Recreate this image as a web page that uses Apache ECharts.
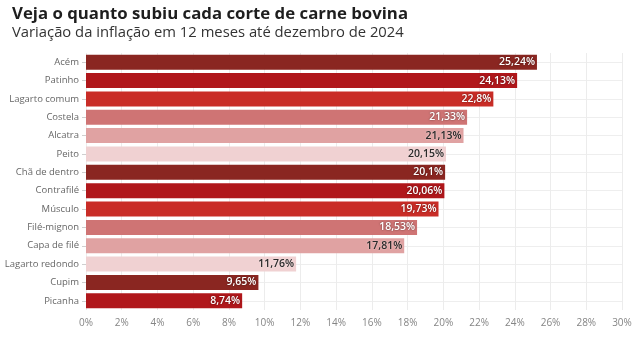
<!DOCTYPE html>
<html><head><meta charset="utf-8">
<script src="https://cdn.jsdelivr.net/npm/echarts@6/dist/echarts.min.js"></script>
<style>html,body{margin:0;padding:0;background:#fff}#c{width:640px;height:341px}</style>
</head><body><div id="c"></div>
<script>
const categories = ['Acém','Patinho','Lagarto comum','Costela','Alcatra','Peito','Chã de dentro','Contrafilé','Músculo','Filé-mignon','Capa de filé','Lagarto redondo','Cupim','Picanha'];
const values = [25.24,24.13,22.8,21.33,21.13,20.15,20.1,20.06,19.73,18.53,17.81,11.76,9.65,8.74];
const palette = ['#8a2621','#b0171b','#c92d27','#cf7474','#e0a2a2','#f0d1d2'];
const darkText = [false,false,false,false,true,true];
const xTicks = [0,2,4,6,8,10,12,14,16,18,20,22,24,26,28,30];

const fmt = v => String(v).replace('.', ',') + '%';
const data = values.map((v,i)=>{
  const k = i % 6;
  return {
    value: v,
    itemStyle: {color: palette[k]},
    label: darkText[k]
      ? {color:'#2a2a2a', textShadowColor:'rgba(255,255,255,0.6)', textShadowBlur:2}
      : {color:'#ffffff', textShadowColor:'rgba(0,0,0,0.55)', textShadowBlur:2}
  };
});

const chart = echarts.init(document.getElementById('c'), null, {renderer:'canvas'});
chart.setOption({
  animation:false,
  title:{
    text:'Veja o quanto subiu cada corte de carne bovina',
    subtext:'Variação da inflação em 12 meses até dezembro de 2024',
    left:7, top:1, itemGap:2,
    textStyle:{fontFamily:'Open Sans', fontSize:16.8, fontWeight:'bold', color:'#1e1e1e'},
    subtextStyle:{fontFamily:'Open Sans', fontSize:14.8, color:'#333'}
  },
  grid:{left:86, right:18, top:53, bottom:31, containLabel:false},
  xAxis:{
    type:'value', min:0, max:30, interval:2,
    axisLine:{show:false}, axisTick:{show:false},
    axisLabel:{fontFamily:'Open Sans', fontSize:10, color:'#858585', margin:8, formatter: v => v + '%'},
    splitLine:{show:true, lineStyle:{color:'#ececec', width:1}}
  },
  yAxis:{
    type:'category', data:categories, inverse:true,
    axisLine:{show:false},
    axisTick:{show:true, alignWithLabel:true, length:4, lineStyle:{color:'#cfcfcf'}},
    axisLabel:{fontFamily:'Open Sans', fontSize:9.5, color:'#666', margin:7},
    splitLine:{show:true, alignWithLabel:true, lineStyle:{color:'#eeeeee', width:1}}
  },
  series:[{
    type:'bar', data:data, barWidth:15,
    label:{show:true, position:'insideRight', distance:2, formatter: p => fmt(p.value),
      fontFamily:'Open Sans', fontSize:10.5, fontWeight:600}
  }]
});
</script></body></html>
